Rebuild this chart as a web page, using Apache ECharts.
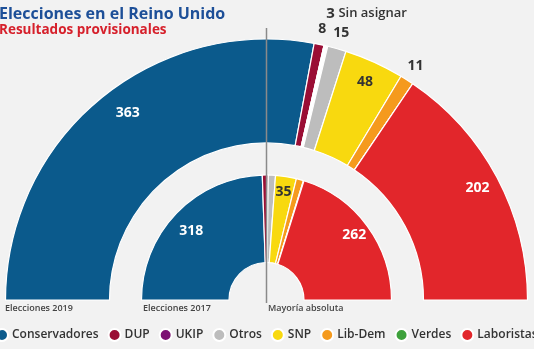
<!DOCTYPE html>
<html><head><meta charset="utf-8">
<script src="https://cdn.jsdelivr.net/npm/echarts@6/dist/echarts.min.js"></script>
<style>html,body{margin:0;padding:0;background:#f2f2f2}#c{width:534px;height:349px}</style>
</head><body><div id="c"></div>
<script>
// ---- data ----
const parties = ['Conservadores','DUP','UKIP','Otros','SNP','Lib-Dem','Verdes','Laboristas'];
const seats2019 = [363, 8, 0, 15, 48, 11, 0, 202];
const unassigned2019 = 3;
const seats2017 = [318, 10, 0, 12, 35, 12, 1, 262];
const totalSeats = 650;
const colors = ['#0b5a8c','#9a0e35','#7d1173','#bdbdbd','#f8d90f','#f59a1d','#3ea13c','#e2262b'];

// labels
const inside2019 = {'Conservadores':'#fff','SNP':'#333','Laboristas':'#fff'};
const outside2019 = ['DUP','Otros','Lib-Dem'];
const inside2017 = {'Conservadores':'#fff','SNP':'#333','Laboristas':'#fff'};

const cx = 266.5, cy = 300;

function ringData(seats, unassigned){
  const d = [];
  parties.forEach((p,i)=>{
    d.push({name:p, value:seats[i], itemStyle:{color:colors[i]}});
    if (p==='UKIP' && unassigned) d.push({name:'Sin asignar', value:unassigned, itemStyle:{color:'#ffffff'}});
  });
  d.push({name:'__fill', value: totalSeats, itemStyle:{color:'rgba(0,0,0,0)', borderWidth:0}, label:{show:false}});
  return d;
}

function labelData(seats, unassigned, insideMap, outsideList, mode, tweak){
  return ringData(seats, unassigned).map(it=>{
    const o = {name:it.name, value:it.value, itemStyle:{color:'rgba(0,0,0,0)'}};
    let show=false, color='#333';
    if (mode==='inside' && insideMap[it.name]) {show=true; color=insideMap[it.name];}
    if (mode==='outside' && outsideList.indexOf(it.name)>=0) show=true;
    o.label = {show:show, color:color};
    if (tweak && tweak[it.name]) o.label.offset = tweak[it.name];
    if (mode==='outside' && it.name==='Sin asignar'){
      o.label = {show:true, formatter:'{a|'+it.value+'} {b|Sin asignar}', offset:[37,-17],
        rich:{a:{fontSize:15,fontWeight:700,color:'#333',fontFamily:'Open Sans'},
              b:{fontSize:13,fontWeight:600,color:'#333',fontFamily:'Open Sans'}}};
    }
    return o;
  });
}

const baseRing = {type:'pie', center:[cx,cy], startAngle:180, clockwise:true, silent:true,
  avoidLabelOverlap:false, labelLine:{show:false}, emphasis:{disabled:true}};
const lbl = {position:'inside', formatter:'{c}', fontFamily:'Open Sans', fontWeight:700, fontSize:14};

const chart = echarts.init(document.getElementById('c'), null, {renderer:'canvas'});
chart.setOption({
  backgroundColor:'#f2f2f2',
  animation:false,
  title:[
    {text:'Elecciones en el Reino Unido', left:-1, top:6, padding:0,
     textStyle:{fontFamily:'Open Sans', fontWeight:700, fontSize:16, color:'#1d4f98'}},
    {text:'Resultados provisionales', left:-1, top:23, padding:0,
     textStyle:{fontFamily:'Open Sans', fontWeight:700, fontSize:13.5, color:'#d6202b'}}
  ],
  legend:{
    data: parties, left:-5, top:328, width:600, padding:0, icon:'circle', itemWidth:12, itemHeight:12, itemGap:9,
    selectedMode:false,
    textStyle:{fontFamily:'Open Sans', fontWeight:600, fontSize:12, color:'#333', padding:[0,0,0,-1]}
  },
  graphic:[
    {type:'line', shape:{x1:cx, y1:28, x2:cx, y2:303}, style:{stroke:'#8a8a8a', lineWidth:1.5}, z:100},
    {type:'text', left:5, top:304, style:{text:'Elecciones 2019', fontFamily:'Open Sans', fontWeight:600, fontSize:9, fill:'#444'}},
    {type:'text', left:143, top:304, style:{text:'Elecciones 2017', fontFamily:'Open Sans', fontWeight:600, fontSize:9, fill:'#444'}},
    {type:'text', left:268, top:304, style:{text:'Mayoría absoluta', fontFamily:'Open Sans', fontWeight:600, fontSize:9, fill:'#444'}}
  ],
  series:[
    Object.assign({}, baseRing, {name:'2019', radius:[157,261], data:ringData(seats2019, unassigned2019),
      itemStyle:{borderColor:'#ffffff', borderWidth:1.2}, label:{show:false}}),
    Object.assign({}, baseRing, {name:'2017', radius:[37.5,125], data:ringData(seats2017, 0),
      itemStyle:{borderColor:'#ffffff', borderWidth:1.2}, label:{show:false}}),
    Object.assign({}, baseRing, {name:'l2019in', radius:[235,237], z:5,
      data:labelData(seats2019, unassigned2019, inside2019, [], 'inside', {'Conservadores':[14,-3]}), label:lbl}),
    Object.assign({}, baseRing, {name:'l2017in', radius:[105,107], z:5,
      data:labelData(seats2017, 0, inside2017, [], 'inside', {'Conservadores':[3,7]}), label:lbl}),
    Object.assign({}, baseRing, {name:'l2019out', radius:[273,275], z:5,
      data:labelData(seats2019, unassigned2019, {}, outside2019, 'outside'), label:Object.assign({}, lbl, {color:'#333'})})
  ]
});
</script></body></html>
